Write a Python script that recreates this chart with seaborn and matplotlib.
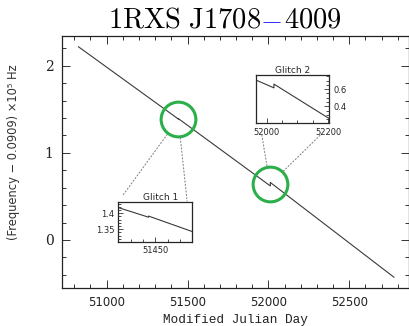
import matplotlib
matplotlib.use("Agg")
import matplotlib.pyplot as plt
from matplotlib.patches import ConnectionPatch
from matplotlib.ticker import MultipleLocator
import seaborn as sns
import pandas as pd

# ---------------- data ----------------
main_mjd = [50825, 51444, 51444, 52012, 52012, 52777]
main_freq = [2.218, 1.387, 1.392, 0.620, 0.660, -0.428]

g1_mjd = [51420, 51444.5, 51444.5, 51480]
g1_freq = [1.4175, 1.3875, 1.391, 1.3425]

g2_mjd = [51966, 52024, 52024, 52202]
g2_freq = [0.706, 0.615, 0.659, 0.259]

glitch_mjd = [51443, 52010]
glitch_freq = [1.385, 0.640]

title_parts = [r"$\mathrm{1RXS\ J1708}$", r"$-$", r"$\mathrm{4009}$"]
title_colors = ["black", "blue", "black"]
title_gaps = [-1.0, 2.5, 0.0]
xlabel = "Modified Julian Day"
ylabel = "(Frequency \u2212 0.0909) \u00d710\u2075 Hz"
inset_titles = ["Glitch 1", "Glitch 2"]

# ---------------- style ----------------
sns.set_style("ticks")
plt.rcParams["font.family"] = ["DejaVu Sans"]
plt.rcParams["mathtext.fontset"] = "cm"

LINE = "#3a3a3a"
GREEN = "#2aaf4a"
W, H = 409, 326

fig = plt.figure(figsize=(W / 100, H / 100), dpi=100)
fig.patch.set_facecolor("white")


def frac(x0, y0, x1, y1):
    return [x0 / W, 1 - y1 / H, (x1 - x0) / W, (y1 - y0) / H]


ax = fig.add_axes(frac(62, 35.7, 408.6, 288))
df = pd.DataFrame({"mjd": main_mjd, "f": main_freq})
sns.lineplot(data=df, x="mjd", y="f", estimator=None, sort=False,
             color=LINE, lw=0.8, ax=ax)
ax.set_xlim(50724, 52867)
ax.set_ylim(-0.551, 2.344)
ax.xaxis.set_major_locator(MultipleLocator(500))
ax.xaxis.set_minor_locator(MultipleLocator(100))
ax.yaxis.set_major_locator(MultipleLocator(1))
ax.yaxis.set_minor_locator(MultipleLocator(0.2))
ax.tick_params(which="both", direction="in", top=True, right=True,
               color="#333333", width=0.7)
ax.tick_params(which="major", length=5.5, pad=6)
ax.tick_params(which="minor", length=2.6)
for lab in ax.get_xticklabels():
    lab.set_fontsize(8.5)
    lab.set_color("#222222")
for lab in ax.get_yticklabels():
    lab.set_fontsize(10)
    lab.set_family("DejaVu Serif")
    lab.set_color("#222222")
for s in ax.spines.values():
    s.set_linewidth(0.9)
    s.set_color("#222222")
ax.set_xlabel(xlabel, family="Liberation Mono", fontsize=9.2, color="#222222")
ax.set_ylabel(ylabel, family="DejaVu Sans", fontsize=8.3, color="#333333")
ax.xaxis.set_label_coords(0.5, -0.105)
ax.yaxis.set_label_coords(-0.122, 0.54)

# glitch circles
ax.plot(glitch_mjd, glitch_freq, "o", mfc="none", mec=GREEN, ms=25, mew=2.2,
        zorder=5)

# ---------------- inset 1 ----------------
ax1 = fig.add_axes(frac(118.3, 202.3, 192.3, 242.3))
sns.lineplot(x=g1_mjd, y=g1_freq, estimator=None, sort=False, color=LINE,
             lw=0.8, ax=ax1)
ax1.set_xlim(51420, 51480)
ax1.set_ylim(1.309, 1.434)
ax1.xaxis.set_minor_locator(MultipleLocator(10))
ax1.yaxis.set_minor_locator(MultipleLocator(0.01))
ax1.tick_params(which="both", direction="in", labelsize=6, pad=3,
                width=0.6, color="#333333")
ax1.tick_params(which="major", length=3.5)
ax1.tick_params(which="minor", length=2)
ax1.set_yticks([1.35, 1.4])
ax1.set_yticklabels(["1.35", "1.4"])
ax1.set_xticks([51450])
ax1.set_xticklabels(["51450"])
ax1.set_title(inset_titles[0], fontsize=6.5, pad=1.5, x=0.57)
for s in ax1.spines.values():
    s.set_linewidth(0.9)

# ---------------- inset 2 ----------------
ax2 = fig.add_axes(frac(256, 75, 329, 123.5))
sns.lineplot(x=g2_mjd, y=g2_freq, estimator=None, sort=False, color=LINE,
             lw=0.8, ax=ax2)
ax2.set_xlim(51966, 52202)
ax2.set_ylim(0.2, 0.765)
ax2.xaxis.set_minor_locator(MultipleLocator(50))
ax2.yaxis.set_minor_locator(MultipleLocator(0.05))
ax2.set_xticks([52000, 52200])
ax2.set_xticklabels(["52000", "52200"])
ax2.set_yticks([0.4, 0.6])
ax2.set_yticklabels(["0.4", "0.6"])
ax2.yaxis.tick_right()
ax2.tick_params(which="both", direction="in", labelsize=6, pad=3,
                width=0.6, color="#333333", left=False, right=True)
ax2.tick_params(which="major", length=3.5)
ax2.tick_params(which="minor", length=2)
ax2.set_title(inset_titles[1], fontsize=6.5, pad=1.5)
for s in ax2.spines.values():
    s.set_linewidth(0.9)

# ---------------- dotted connectors ----------------
conns = [
    (0, ax1, (0.064, 1.18)),
    (0, ax1, (0.93, 1.03)),
    (1, ax2, (0.08, -0.24)),
    (1, ax2, (0.88, -0.24)),
]
for gi, tax, xyb in conns:
    con = ConnectionPatch(xyA=(glitch_mjd[gi], glitch_freq[gi]),
                          coordsA=ax.transData, xyB=xyb,
                          coordsB=tax.transAxes, linestyle=(0, (1, 2)),
                          color="#888888", lw=0.8, shrinkA=13.5, shrinkB=0)
    fig.add_artist(con)

# ---------------- title (multi-colour) ----------------
fig.canvas.draw()
renderer = fig.canvas.get_renderer()
x = 108 / W
ybase = 1 - 28 / H
for part, col, gap in zip(title_parts, title_colors, title_gaps):
    t = fig.text(x, ybase, part, color=col, fontsize=20.5,
                 va="baseline", ha="left")
    fig.canvas.draw()
    bb = t.get_window_extent(renderer)
    x = bb.x1 / fig.bbox.width + gap / W

fig.savefig("out.png", dpi=100, facecolor="white")
